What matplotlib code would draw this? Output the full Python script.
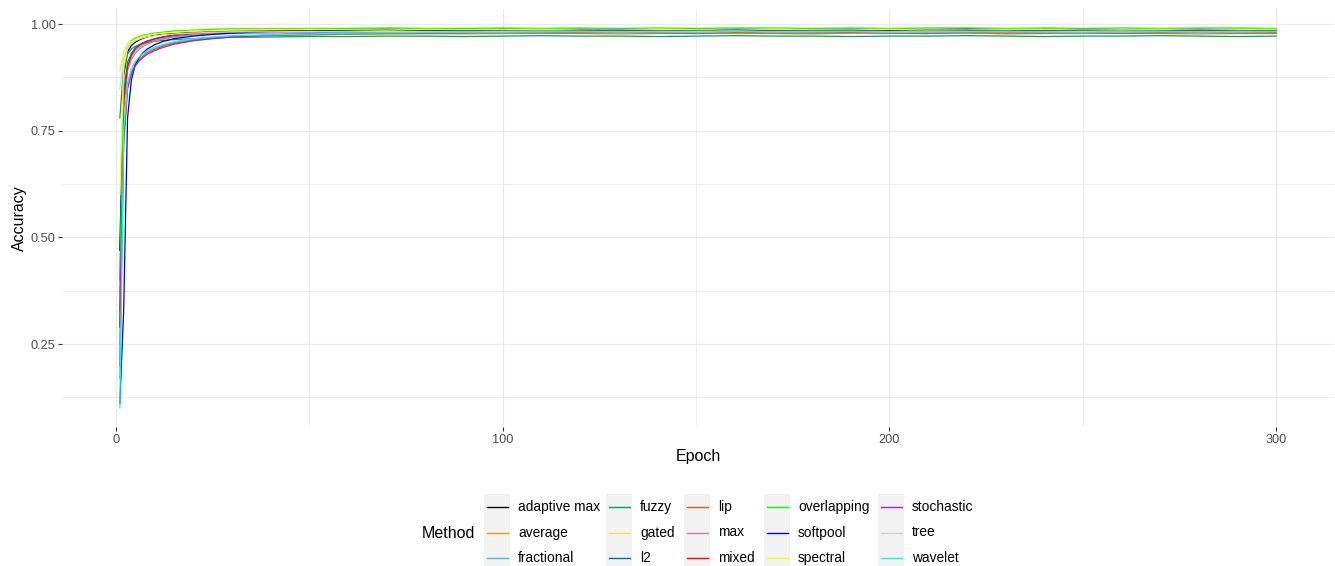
"""Training accuracy per epoch for each pooling method (ggplot-style line chart)."""

import matplotlib
matplotlib.use("Agg")
import matplotlib.pyplot as plt
from matplotlib.patches import Rectangle
from matplotlib.ticker import MultipleLocator

plt.rcParams["font.family"] = ["Liberation Sans", "DejaVu Sans"]

# ---------------------------------------------------------------------------
# Data
# ---------------------------------------------------------------------------
EPOCHS = [1, 2, 3, 4, 5, 6, 7, 8, 10, 12, 15, 20, 25, 30,
          40, 50, 60, 70, 80, 90, 100, 110, 120, 130, 140, 150, 160, 170,
          180, 190, 200, 210, 220, 230, 240, 250, 260, 270, 280, 290, 300]

METHODS = ["adaptive max", "average", "fractional", "fuzzy", "gated", "l2",
           "lip", "max", "mixed", "overlapping", "softpool", "spectral",
           "stochastic", "tree", "wavelet"]

COLORS = ["#000000", "#E69F00", "#56B4E9", "#009E73", "#F0E442", "#0072B2",
          "#D55E00", "#CC79A7", "#FF0000", "#00FF00", "#0000CC", "#FFFF00",
          "#A020F0", "#D3D3D3", "#00FFFF"]

ACC_ADAPTIVE_MAX = [0.47, 0.88, 0.935, 0.950, 0.958, 0.963, 0.967, 0.970, 0.974, 0.977, 0.979, 0.982, 0.984, 0.985,
                    0.986, 0.987, 0.987, 0.988, 0.987, 0.986, 0.988, 0.987, 0.987,
                    0.988, 0.987, 0.986, 0.988, 0.987, 0.987, 0.988, 0.987, 0.987,
                    0.989, 0.987, 0.986, 0.988, 0.987, 0.987, 0.988, 0.987, 0.987]
ACC_AVERAGE = [0.17, 0.74, 0.86, 0.895, 0.912, 0.922, 0.930, 0.936, 0.944, 0.950, 0.957, 0.964, 0.968, 0.971,
               0.974, 0.975, 0.976, 0.977, 0.978, 0.977, 0.978, 0.979, 0.978,
               0.977, 0.978, 0.979, 0.978, 0.978, 0.977, 0.979, 0.978, 0.978,
               0.979, 0.977, 0.978, 0.978, 0.979, 0.978, 0.977, 0.978, 0.978]
ACC_FRACTIONAL = [0.30, 0.82, 0.90, 0.925, 0.938, 0.946, 0.952, 0.956, 0.962, 0.966, 0.970, 0.974, 0.977, 0.978,
                  0.979, 0.980, 0.981, 0.982, 0.981, 0.980, 0.982, 0.981, 0.981,
                  0.982, 0.980, 0.981, 0.982, 0.981, 0.981, 0.980, 0.982, 0.981,
                  0.981, 0.982, 0.981, 0.980, 0.982, 0.981, 0.981, 0.982, 0.981]
ACC_FUZZY = [0.78, 0.90, 0.93, 0.942, 0.948, 0.952, 0.955, 0.957, 0.960, 0.962, 0.964, 0.966, 0.968, 0.969,
             0.970, 0.971, 0.971, 0.972, 0.972, 0.971, 0.972, 0.973, 0.972,
             0.972, 0.971, 0.972, 0.973, 0.972, 0.972, 0.971, 0.972, 0.972,
             0.973, 0.972, 0.971, 0.972, 0.972, 0.973, 0.972, 0.971, 0.972]
ACC_GATED = [0.89, 0.935, 0.955, 0.963, 0.968, 0.971, 0.973, 0.975, 0.977, 0.979, 0.981, 0.983, 0.985, 0.986,
             0.987, 0.987, 0.988, 0.987, 0.986, 0.988, 0.987, 0.987, 0.988,
             0.986, 0.987, 0.988, 0.987, 0.987, 0.986, 0.988, 0.987, 0.988,
             0.987, 0.986, 0.987, 0.988, 0.987, 0.986, 0.987, 0.988, 0.987]
ACC_L2 = [0.40, 0.84, 0.91, 0.932, 0.944, 0.951, 0.956, 0.960, 0.965, 0.969, 0.973, 0.977, 0.979, 0.980,
          0.982, 0.983, 0.984, 0.983, 0.983, 0.984, 0.982, 0.983, 0.984,
          0.983, 0.983, 0.984, 0.983, 0.982, 0.984, 0.983, 0.983, 0.984,
          0.983, 0.983, 0.982, 0.984, 0.983, 0.983, 0.984, 0.983, 0.983]
ACC_LIP = [0.20, 0.72, 0.85, 0.885, 0.905, 0.917, 0.925, 0.932, 0.941, 0.948, 0.955, 0.962, 0.967, 0.970,
           0.973, 0.975, 0.977, 0.978, 0.978, 0.979, 0.980, 0.979, 0.979,
           0.980, 0.979, 0.978, 0.980, 0.979, 0.979, 0.980, 0.979, 0.978,
           0.980, 0.979, 0.979, 0.980, 0.978, 0.979, 0.980, 0.979, 0.979]
ACC_MAX = [0.25, 0.80, 0.89, 0.918, 0.932, 0.941, 0.948, 0.953, 0.960, 0.965, 0.970, 0.975, 0.978, 0.980,
           0.982, 0.983, 0.984, 0.983, 0.984, 0.985, 0.984, 0.983, 0.985,
           0.984, 0.984, 0.985, 0.983, 0.984, 0.985, 0.984, 0.984, 0.983,
           0.985, 0.984, 0.984, 0.985, 0.984, 0.983, 0.984, 0.985, 0.984]
ACC_MIXED = [0.29, 0.82, 0.90, 0.928, 0.942, 0.950, 0.956, 0.960, 0.966, 0.970, 0.975, 0.979, 0.982, 0.984,
             0.985, 0.986, 0.987, 0.986, 0.985, 0.987, 0.986, 0.986, 0.988,
             0.986, 0.985, 0.987, 0.986, 0.986, 0.987, 0.985, 0.986, 0.987,
             0.986, 0.986, 0.988, 0.986, 0.985, 0.987, 0.986, 0.986, 0.987]
ACC_OVERLAPPING = [0.37, 0.89, 0.945, 0.960, 0.967, 0.971, 0.974, 0.976, 0.979, 0.981, 0.984, 0.986, 0.988, 0.989,
                   0.989, 0.990, 0.990, 0.991, 0.990, 0.990, 0.991, 0.990, 0.991,
                   0.990, 0.991, 0.990, 0.991, 0.991, 0.990, 0.991, 0.990, 0.991,
                   0.991, 0.990, 0.991, 0.990, 0.991, 0.990, 0.991, 0.991, 0.990]
ACC_SOFTPOOL = [0.11, 0.33, 0.78, 0.87, 0.905, 0.922, 0.933, 0.941, 0.952, 0.959, 0.966, 0.972, 0.976, 0.979,
                0.983, 0.984, 0.985, 0.986, 0.985, 0.984, 0.986, 0.985, 0.985,
                0.986, 0.984, 0.985, 0.986, 0.985, 0.984, 0.986, 0.985, 0.985,
                0.986, 0.984, 0.985, 0.986, 0.985, 0.985, 0.986, 0.984, 0.985]
ACC_SPECTRAL = [0.60, 0.90, 0.945, 0.958, 0.965, 0.969, 0.972, 0.974, 0.977, 0.979, 0.981, 0.984, 0.985, 0.986,
                0.987, 0.988, 0.987, 0.986, 0.988, 0.987, 0.987, 0.988, 0.986,
                0.987, 0.988, 0.987, 0.986, 0.988, 0.987, 0.987, 0.988, 0.986,
                0.987, 0.988, 0.987, 0.987, 0.986, 0.988, 0.987, 0.987, 0.988]
ACC_STOCHASTIC = [0.33, 0.73, 0.85, 0.885, 0.902, 0.914, 0.922, 0.929, 0.938, 0.945, 0.953, 0.961, 0.966, 0.970,
                  0.975, 0.978, 0.980, 0.982, 0.983, 0.984, 0.985, 0.984, 0.985,
                  0.986, 0.985, 0.984, 0.986, 0.985, 0.985, 0.986, 0.984, 0.985,
                  0.986, 0.985, 0.984, 0.986, 0.985, 0.985, 0.986, 0.985, 0.984]
ACC_TREE = [0.85, 0.92, 0.945, 0.955, 0.961, 0.965, 0.968, 0.970, 0.973, 0.975, 0.977, 0.979, 0.981, 0.982,
            0.982, 0.983, 0.982, 0.983, 0.983, 0.982, 0.983, 0.984, 0.983,
            0.982, 0.983, 0.983, 0.984, 0.982, 0.983, 0.983, 0.982, 0.984,
            0.983, 0.983, 0.982, 0.983, 0.984, 0.983, 0.982, 0.983, 0.983]
ACC_WAVELET = [0.10, 0.75, 0.86, 0.895, 0.912, 0.923, 0.931, 0.937, 0.946, 0.952, 0.959, 0.966, 0.970, 0.973,
               0.975, 0.977, 0.979, 0.980, 0.981, 0.982, 0.981, 0.982, 0.983,
               0.982, 0.982, 0.981, 0.983, 0.982, 0.982, 0.983, 0.981, 0.982,
               0.982, 0.983, 0.982, 0.981, 0.982, 0.983, 0.982, 0.982, 0.983]

SERIES = [ACC_ADAPTIVE_MAX, ACC_AVERAGE, ACC_FRACTIONAL, ACC_FUZZY, ACC_GATED,
          ACC_L2, ACC_LIP, ACC_MAX, ACC_MIXED, ACC_OVERLAPPING, ACC_SOFTPOOL,
          ACC_SPECTRAL, ACC_STOCHASTIC, ACC_TREE, ACC_WAVELET]

# ---------------------------------------------------------------------------
# Figure
# ---------------------------------------------------------------------------
W, H = 1335, 566
fig = plt.figure(figsize=(W / 100, H / 100), dpi=100)

# panel in pixels: left 62, right 1334, top 9, bottom 427
ax = fig.add_axes([62 / W, (H - 427) / H, 1272 / W, 418 / H])

for method, acc, col in zip(METHODS, SERIES, COLORS):
    ax.plot(EPOCHS, acc, color=col, lw=0.9, label=method)

ax.margins(x=0.05, y=0.05)
ax.xaxis.set_major_locator(MultipleLocator(100))
ax.xaxis.set_minor_locator(MultipleLocator(50))
ax.yaxis.set_major_locator(MultipleLocator(0.25))
ax.yaxis.set_minor_locator(MultipleLocator(0.125))
ax.yaxis.set_major_formatter(lambda v, p: f"{v:.2f}")

ax.grid(which="major", color="#EBEBEB", lw=0.9)
ax.grid(which="minor", color="#EBEBEB", lw=0.6)
ax.set_axisbelow(True)
for s in ax.spines.values():
    s.set_visible(False)

ax.tick_params(which="major", length=2.6, width=0.8, color="#333333",
               labelsize=9.2, labelcolor="#4D4D4D", pad=2.1)
ax.tick_params(which="minor", length=0)

ax.set_xlabel("Epoch", fontsize=11.5, labelpad=2.6)
ax.set_ylabel("Accuracy", fontsize=11.5, labelpad=2.6)

# ---------------------------------------------------------------------------
# Legend (ggplot-like: title on the left, grey key backgrounds, 5 cols x 3 rows)
# ---------------------------------------------------------------------------
lax = fig.add_axes([0, 0, 1, 1])
lax.set_xlim(0, W)
lax.set_ylim(H, 0)
lax.axis("off")

lax.text(422, 533, "Method", fontsize=11.5, ha="left", va="center")

KEY_X = [484, 606, 684, 764, 878]     # key box left edge per column
ROW_Y = [507, 532.5, 558]              # row centres
KEY_W, KEY_H = 26, 25.5

for i, (method, col) in enumerate(zip(METHODS, COLORS)):
    c, r = divmod(i, 3)
    x0, yc = KEY_X[c], ROW_Y[r]
    lax.add_patch(Rectangle((x0, yc - KEY_H / 2), KEY_W, KEY_H,
                            facecolor="#F2F2F2", edgecolor="none"))
    lax.plot([x0 + 2.5, x0 + KEY_W - 2.5], [yc, yc], color=col, lw=1.0)
    lax.text(x0 + KEY_W + 8, yc, method, fontsize=9.9, ha="left", va="center")

fig.savefig("out.png", dpi=100)
